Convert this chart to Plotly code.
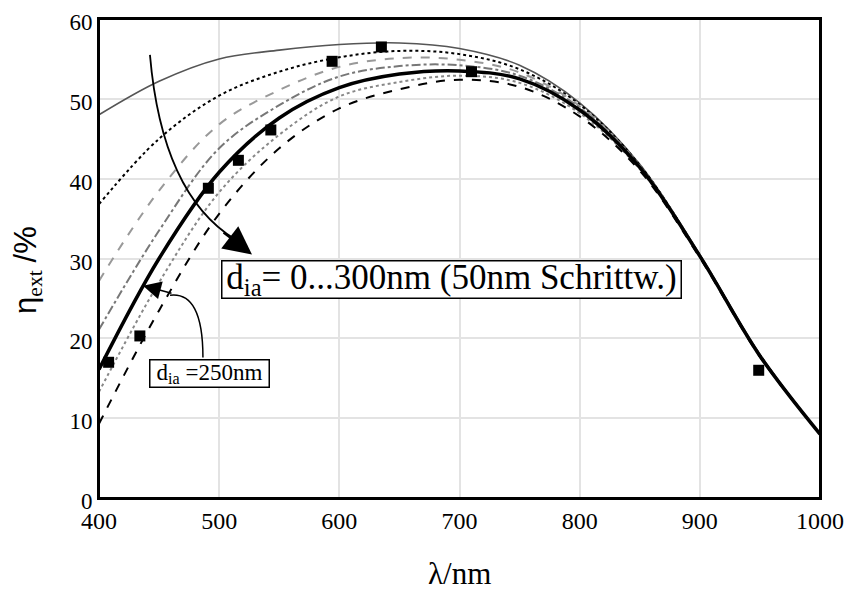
import plotly.graph_objects as go

# wavelength grid (nm)
wavelength = [400, 450, 500, 550, 600, 650, 700, 750, 800, 850, 900, 950, 1000]

# simulated external efficiency (%) for d_ia = 0...300 nm
eta_d0   = [48.0, 52.2, 55.0, 56.1, 56.8, 57.0, 56.3, 54.2, 49.5, 41.8, 30.5, 18.0, 8.0]
eta_d50  = [36.8, 45.0, 50.4, 53.4, 55.2, 56.0, 55.6, 53.7, 49.3, 41.7, 30.4, 17.9, 8.0]
eta_d100 = [27.2, 38.5, 46.8, 51.1, 54.0, 55.1, 54.9, 53.3, 49.1, 41.6, 30.4, 17.9, 8.0]
eta_d150 = [21.1, 33.5, 43.8, 49.2, 52.8, 54.1, 54.2, 52.9, 48.9, 41.5, 30.3, 17.8, 8.0]
eta_d250 = [16.1, 30.0, 40.8, 47.6, 51.4, 53.1, 53.5, 52.5, 48.6, 41.4, 30.3, 17.8, 8.0]
eta_d200 = [13.3, 27.0, 38.3, 45.5, 50.3, 52.1, 52.9, 52.0, 48.2, 41.2, 30.2, 17.7, 8.0]
eta_d300 = [9.3, 23.5, 35.6, 43.8, 48.8, 51.2, 52.4, 51.5, 47.8, 41.0, 30.1, 17.7, 8.0]

# measured points
meas_x = [408, 434, 491, 516, 543, 594, 635, 710, 949]
meas_y = [17.0, 20.3, 38.8, 42.3, 46.1, 54.7, 56.5, 53.4, 16.0]

x_ticks = [400, 500, 600, 700, 800, 900, 1000]
y_ticks = [0, 10, 20, 30, 40, 50, 60]

series = [
    (eta_d0,   dict(color="#555555", width=1.6, dash="solid")),
    (eta_d50,  dict(color="#000000", width=2.0, dash="dot")),
    (eta_d100, dict(color="#999999", width=2.0, dash="dash")),
    (eta_d150, dict(color="#777777", width=2.0, dash="dashdot")),
    (eta_d200, dict(color="#888888", width=2.0, dash="dot")),
    (eta_d300, dict(color="#000000", width=2.0, dash="dash")),
    (eta_d250, dict(color="#000000", width=3.5, dash="solid")),
]

fig = go.Figure()
for ys, ln in series:
    fig.add_trace(go.Scatter(x=wavelength, y=ys, mode="lines",
                             line=dict(shape="spline", smoothing=1.0, **ln),
                             showlegend=False, hoverinfo="skip"))

fig.add_trace(go.Scatter(x=meas_x, y=meas_y, mode="markers",
                         marker=dict(symbol="square", size=11, color="black"),
                         showlegend=False))

serif = "Liberation Serif, Times New Roman, serif"

# plot frame
fig.add_shape(type="rect", xref="paper", yref="paper", x0=0, x1=1, y0=0, y1=1,
              line=dict(color="black", width=2), fillcolor="rgba(0,0,0,0)", layer="above")

# curved arrows (decorations)
fig.add_shape(type="path", xref="x", yref="y",
              path="M 442.4,55.5 Q 452.4,38.0 513.2,32.4",
              line=dict(color="black", width=1.8))
fig.add_shape(type="path", xref="x", yref="y",
              path="M 486.5,17.6 Q 486.5,25.9 459.1,25.4",
              line=dict(color="black", width=1.5))

fig.add_annotation(x=527.3, y=30.5, xref="x", yref="y", ax=-30, ay=-23,
                   text="", showarrow=True, arrowhead=2, arrowsize=2.8,
                   arrowwidth=2, arrowcolor="black")
fig.add_annotation(x=436.6, y=26.6, xref="x", yref="y", ax=30, ay=8,
                   text="", showarrow=True, arrowhead=2, arrowsize=2.4,
                   arrowwidth=1.5, arrowcolor="black")

fig.add_annotation(x=693.3, y=27.4, xref="x", yref="y", showarrow=False,
                   text="d<sub>ia</sub>= 0...300nm (50nm Schrittw.)",
                   font=dict(family=serif, size=35, color="black"),
                   width=458, height=36,
                   bordercolor="black", borderwidth=1.5, borderpad=0,
                   bgcolor="white")
fig.add_annotation(x=492.0, y=15.6, xref="x", yref="y", showarrow=False,
                   text="d<sub>ia</sub> =250nm",
                   font=dict(family=serif, size=23, color="black"),
                   width=118, height=26,
                   bordercolor="black", borderwidth=1.5, borderpad=0,
                   bgcolor="white")

# axis titles
fig.add_annotation(x=0.5, y=-0.158, xref="paper", yref="paper", showarrow=False,
                   text="λ/nm", font=dict(family=serif, size=31, color="black"),
                   xanchor="center", yanchor="middle")
fig.add_annotation(x=-0.0985, y=0.476, xref="paper", yref="paper", showarrow=False,
                   textangle=-90,
                   text="<span style='font-family:Liberation Sans'>η</span><sub>ext</sub> <span style='font-family:Liberation Sans'>/%</span>",
                   font=dict(family=serif, size=31, color="black"),
                   xanchor="center", yanchor="middle")

# page body has an 8px default margin -> shift plot margins accordingly
fig.update_layout(
    width=856, height=590,
    margin=dict(l=91, r=44, t=11, b=100),
    paper_bgcolor="white", plot_bgcolor="white",
    font=dict(family=serif, size=24, color="black"),
)
fig.update_xaxes(range=[400, 1000], tickvals=x_ticks, ticktext=[str(v) for v in x_ticks],
                 showgrid=True, gridcolor="#e3e3e3", gridwidth=2,
                 showline=True, linecolor="black", linewidth=2, mirror=True,
                 ticks="", zeroline=False, automargin=False, ticklabeloverflow="allow")
fig.update_yaxes(range=[0, 60], tickvals=y_ticks, ticktext=[str(v) for v in y_ticks],
                 tickfont=dict(size=23),
                 showgrid=True, gridcolor="#e3e3e3", gridwidth=2,
                 showline=True, linecolor="black", linewidth=2, mirror=True,
                 ticks="", zeroline=False, automargin=False, ticklabeloverflow="allow",
                 ticklabelshift=3)

fig.write_html("out.html")
